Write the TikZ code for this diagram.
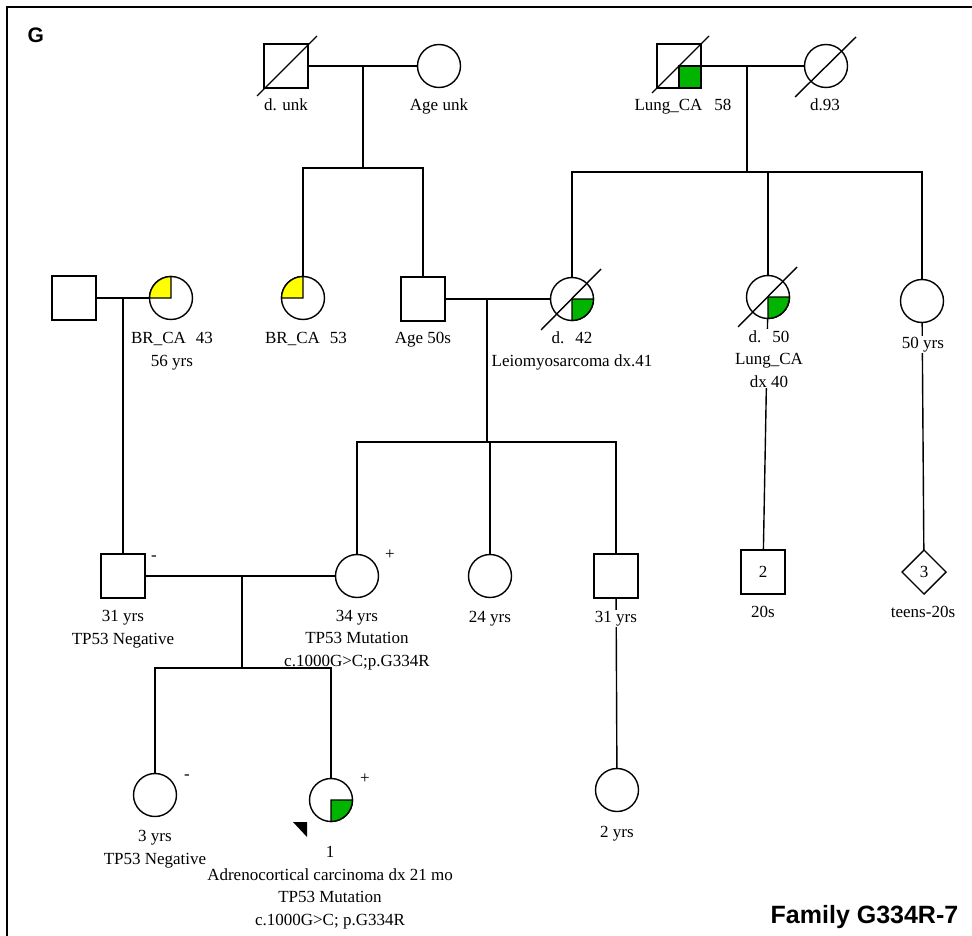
\documentclass[tikz,border=0pt]{standalone}
\usepackage{fontspec}
\setmainfont{Liberation Serif}
\newfontfamily\hel{Liberation Sans}
\usetikzlibrary{shapes.geometric}
\definecolor{affg}{RGB}{0,180,0}
\definecolor{affy}{RGB}{255,255,0}
\begin{document}
\begin{tikzpicture}[x=1pt,y=-1pt, line width=1.4pt,
 male/.style={draw, rectangle, minimum size=44pt, inner sep=0pt, outer sep=0pt, fill=white, font=\fontsize{17}{20}\selectfont},
 female/.style={draw, circle, minimum size=43pt, inner sep=0pt, outer sep=0pt, fill=white},
 unk/.style={draw, diamond, minimum width=44pt, minimum height=44pt, inner sep=0pt, outer sep=0pt, fill=white, font=\fontsize{17}{20}\selectfont},
 lab/.style={font=\fontsize{17}{22.5}\selectfont, align=center, inner sep=1pt, anchor=base},
 labw/.style={lab, fill=white},
 sym/.style={font=\fontsize{17}{20}\selectfont, inner sep=0pt},
 slash/.style={line width=1.4pt},
 frame/.style={line width=2pt}
 ]
\useasboundingbox (0,0) rectangle (972,936);
\draw[frame] (7,950) -- (7,7) -- (990,7);
\node[font=\hel\bfseries\fontsize{21}{21}\selectfont, anchor=base west, inner sep=0pt] (G) at (27,43) {G};
\node[font=\hel\bfseries\fontsize{25}{25}\selectfont, anchor=base east, inner sep=0pt] (fam) at (959,923) {Family G334R-7};

% individuals
\node[male] (dunk) at (286,66) {};
\node[female] (ageunk) at (439,66) {};
\node[male] (lung58) at (679,66) {};
\node[female] (d93) at (826,66) {};
\node[male] (sp1) at (74,298) {};
\node[female] (brca43) at (171,298) {};
\node[female] (brca53) at (303,298) {};
\node[male] (age50) at (423,299) {};
\node[female] (d42) at (572,299) {};
\node[female] (d50) at (768,297) {};
\node[female] (y50) at (922,301) {};
\node[male] (sq31a) at (123,576) {};
\node[female] (c34) at (357,576) {};
\node[female] (c24) at (490,576) {};
\node[male] (sq31b) at (616,576) {};
\node[male] (sq2) at (763,572) {2};
\node[unk] (dia3) at (924,572) {3};
\node[female] (c3) at (155,795) {};
\node[female] (prob) at (331,800) {};
\node[female] (c2) at (617,790) {};

% affected quadrants
\filldraw[fill=affg] (lung58.center) rectangle (lung58.south east);
\filldraw[fill=affy] (brca43.center) -- (brca43.north) arc[start angle=90, end angle=180, radius=21.5pt] -- cycle;
\filldraw[fill=affy] (brca53.center) -- (brca53.north) arc[start angle=90, end angle=180, radius=21.5pt] -- cycle;
\filldraw[fill=affg] (d42.center) -- (d42.east) arc[start angle=0, end angle=-90, radius=21.5pt] -- cycle;
\filldraw[fill=affg] (d50.center) -- (d50.east) arc[start angle=0, end angle=-90, radius=21.5pt] -- cycle;
\filldraw[fill=affg] (prob.center) -- (prob.east) arc[start angle=0, end angle=-90, radius=21.5pt] -- cycle;

% deceased slashes
\draw[slash] ([shift={(-29,30)}]dunk.center) -- ([shift={(31,-30)}]dunk.center);
\draw[slash] ([shift={(-27,27)}]lung58.center) -- ([shift={(30,-30)}]lung58.center);
\draw[slash] ([shift={(-31,31)}]d93.center) -- ([shift={(30,-29)}]d93.center);
\draw[slash] ([shift={(-31,31)}]d42.center) -- ([shift={(29,-30)}]d42.center);
\draw[slash] ([shift={(-30,30)}]d50.center) -- ([shift={(29,-30)}]d50.center);

% proband arrow
\fill (293,822) -- (307,822) -- (307,837) -- cycle;

% connectors
\coordinate (m1) at (363,66);
\coordinate (s1) at (363,168);
\draw (dunk) -- (ageunk);
\draw (m1) -- (s1);
\draw (brca53.north) |- (s1);
\draw (age50.north) |- (s1);

\coordinate (m2) at (747,66);
\coordinate (s2) at (747,172);
\draw (lung58) -- (d93);
\draw (m2) -- (s2);
\draw (d42.north) |- (s2);
\draw (d50.north) |- (s2);
\draw (y50.north) |- (s2);

\coordinate (m3) at (123,298);
\draw (sp1) -- (brca43);
\draw (m3) -- (sq31a.north);

\coordinate (m4) at (487,299);
\coordinate (s4) at (487,442);
\draw (age50) -- (d42);
\draw (m4) -- (s4);
\draw (c34.north) |- (s4);
\draw (c24.north) |- (s4);
\draw (sq31b.north) |- (s4);

\coordinate (m5) at (242,576);
\coordinate (s5) at (242,668);
\draw (sq31a) -- (c34);
\draw (m5) -- (s5);
\draw (c3.north) |- (s5);
\draw (prob.north) |- (s5);

\draw (d50) -- (sq2);
\draw (y50) -- (dia3);
\draw (sq31b) -- (c2);

% test result signs
\node[sym] (sgn1) at (154,558) {-};
\node[sym] (sgn2) at (390,555) {+};
\node[sym] (sgn3) at (187,777) {-};
\node[sym] (sgn4) at (365,779) {+};

% labels (base anchor = baseline of last line)
\node[lab] (l-dunk) at (286,111) {d. unk};
\node[lab] (l-ageunk) at (439,111) {Age unk};
\node[lab] (l-lung58) at (683,111) {Lung\_CA\hspace{12pt}58};
\node[lab] (l-d93) at (825,111) {d.93};
\node[lab] (l-brca43) at (172,366) {BR\_CA\hspace{10pt}43\\56 yrs};
\node[lab] (l-brca53) at (306,343) {BR\_CA\hspace{10pt}53};
\node[lab] (l-age50) at (423,343) {Age 50s};
\node[lab] (l-d42) at (572,366) {d.\hspace{11pt}42\\Leiomyosarcoma dx.41};
\node[labw] (l-d50) at (769,387) {d.\hspace{11pt}50\\Lung\_CA\\dx 40};
\node[labw] (l-y50) at (923,348) {50 yrs};
\node[lab] (l-31a) at (123,644) {31 yrs\\TP53 Negative};
\node[lab] (l-34) at (357,666) {34 yrs\\TP53 Mutation\\c.1000G>C;p.G334R};
\node[lab] (l-24) at (490,622) {24 yrs};
\node[labw] (l-31b) at (616,622) {31 yrs};
\node[lab] (l-2) at (763,617) {20s};
\node[lab] (l-3) at (923,617) {teens-20s};
\node[lab] (l-c3) at (155,864) {3 yrs\\TP53 Negative};
\node[lab] (l-prob) at (330,925) {1\\Adrenocortical carcinoma dx 21 mo\\TP53 Mutation\\c.1000G>C; p.G334R};
\node[lab] (l-c2) at (617,837) {2 yrs};
\end{tikzpicture}
\end{document}
